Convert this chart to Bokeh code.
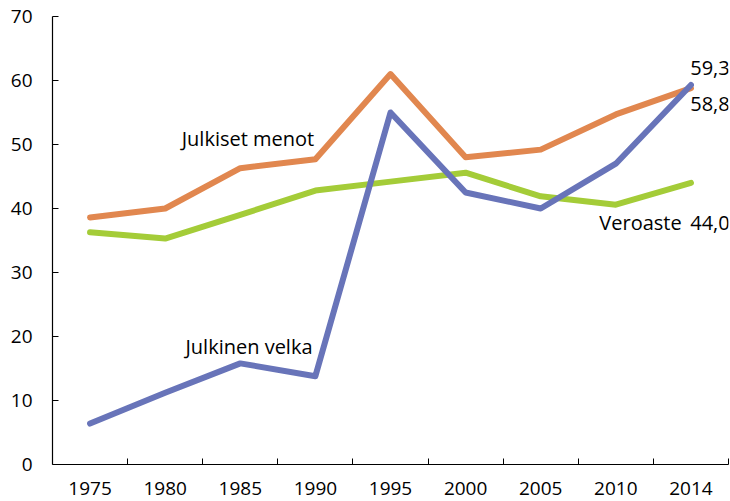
from bokeh.plotting import figure
from bokeh.models import Range1d, FixedTicker, Label
from bokeh.embed import file_html
from bokeh.resources import INLINE

years = ["1975", "1980", "1985", "1990", "1995", "2000", "2005", "2010", "2014"]
julkiset_menot = [38.6, 40.0, 46.3, 47.7, 61.0, 48.0, 49.2, 54.7, 58.8]
veroaste = [36.3, 35.3, 39.0, 42.8, 44.2, 45.6, 41.9, 40.6, 44.0]
julkinen_velka = [6.4, 11.2, 15.8, 13.8, 55.0, 42.5, 40.0, 47.0, 59.3]
y_ticks = [0, 10, 20, 30, 40, 50, 60, 70]

FONT = "Open Sans"
ORANGE = "#E1874F"
GREEN = "#A4CC38"
BLUE = "#6874B9"

def fmt(v):
    return f"{v:.1f}".replace(".", ",")

xs = [i + 0.5 for i in range(len(years))]

p = figure(width=730, height=501, output_backend="svg", toolbar_location=None,
           x_range=Range1d(0, len(years)), y_range=Range1d(0, 70),
           min_border_left=52, min_border_right=2, min_border_top=16, min_border_bottom=37)
p.outline_line_color = None
p.xgrid.visible = False
p.ygrid.visible = False
p.background_fill_color = "white"

p.line(xs, veroaste, line_color=GREEN, line_width=6, line_join="round", line_cap="round")
p.line(xs, julkiset_menot, line_color=ORANGE, line_width=6, line_join="round", line_cap="round")
p.line(xs, julkinen_velka, line_color=BLUE, line_width=6, line_join="round", line_cap="round")

xa = p.xaxis[0]
xa.ticker = FixedTicker(ticks=xs, minor_ticks=list(range(1, len(years) + 1)))
xa.major_label_overrides = {x: y for x, y in zip(xs, years)}
xa.major_tick_line_color = None
xa.minor_tick_in = 6
xa.minor_tick_out = 0
xa.minor_tick_line_color = "black"
xa.axis_line_color = "black"
xa.axis_line_width = 1.2
xa.major_label_text_font = FONT
xa.major_label_text_font_size = "19px"
xa.major_label_text_color = "black"
xa.major_label_standoff = 11

ya = p.yaxis[0]
ya.ticker = FixedTicker(ticks=y_ticks)
ya.major_tick_in = 6
ya.major_tick_out = 0
ya.minor_tick_line_color = None
ya.axis_line_color = "black"
ya.axis_line_width = 1.2
ya.major_label_text_font = FONT
ya.major_label_text_font_size = "19px"
ya.major_label_text_color = "black"
ya.major_label_standoff = 20

def lab(x, y, text, align="left"):
    p.add_layout(Label(x=x, y=y, text=text, text_font=FONT, text_font_size="20px",
                       text_color="black", text_baseline="middle", text_align=align))

lab(1.72, 50.9, "Julkiset menot")
lab(1.77, 18.4, "Julkinen velka")
lab(7.28, 37.8, "Veroaste")
lab(8.49, 37.8, fmt(veroaste[-1]))
lab(8.49, 61.9, fmt(julkinen_velka[-1]))
lab(8.49, 56.4, fmt(julkiset_menot[-1]))

open("out.html", "w").write(file_html(p, INLINE))
